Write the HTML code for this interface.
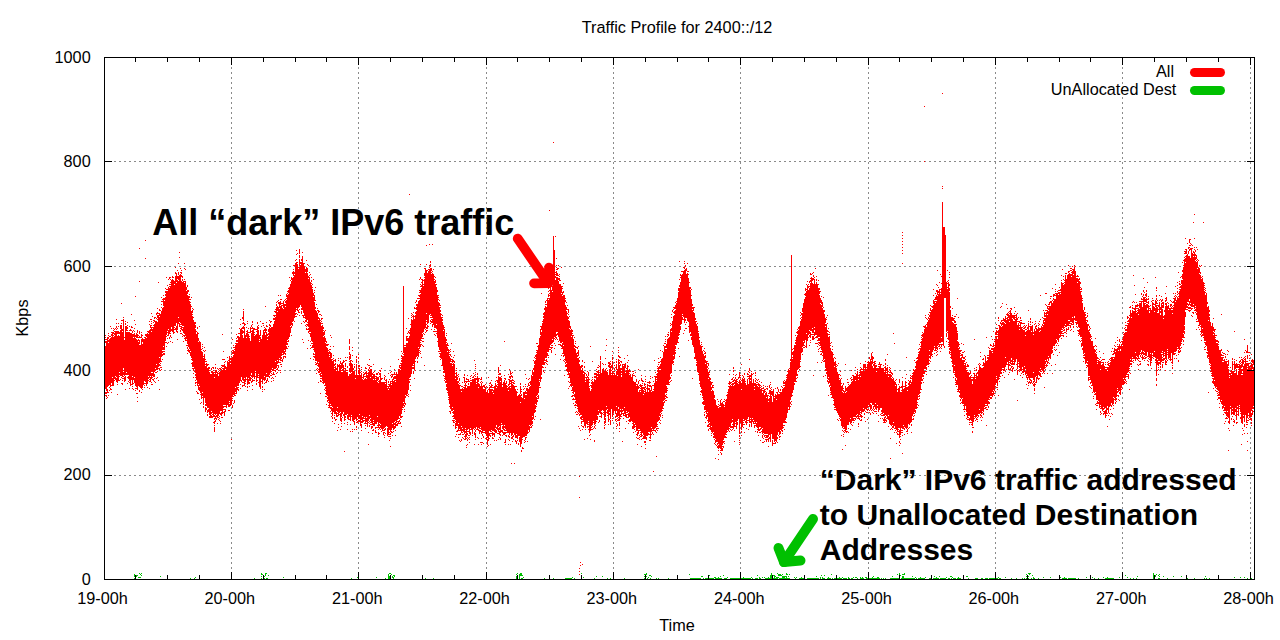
<!DOCTYPE html>
<html><head><meta charset="utf-8"><title>Traffic Profile for 2400::/12</title>
<style>
html,body{margin:0;padding:0;background:#fff;}
body{width:1280px;height:640px;overflow:hidden;font-family:"Liberation Sans",sans-serif;}
svg{display:block}
text{font-family:"Liberation Sans",sans-serif;}
</style></head><body>
<svg width="1280" height="640" viewBox="0 0 1280 640">
<rect width="1280" height="640" fill="#fff"/>
<g stroke="#8a8a8a" stroke-width="1" stroke-dasharray="2 3" shape-rendering="crispEdges">
<line x1="231.5" y1="57" x2="231.5" y2="579"/><line x1="358.5" y1="57" x2="358.5" y2="579"/><line x1="486.5" y1="57" x2="486.5" y2="579"/><line x1="613.5" y1="57" x2="613.5" y2="579"/><line x1="740.5" y1="57" x2="740.5" y2="579"/><line x1="868.5" y1="57" x2="868.5" y2="579"/><line x1="995.5" y1="57" x2="995.5" y2="579"/><line x1="1122.5" y1="57" x2="1122.5" y2="579"/><line x1="1250.5" y1="57" x2="1250.5" y2="579"/><line x1="104" y1="475.5" x2="1254" y2="475.5"/><line x1="104" y1="370.5" x2="1254" y2="370.5"/><line x1="104" y1="266.5" x2="1254" y2="266.5"/><line x1="104" y1="161.5" x2="1254" y2="161.5"/>
</g>
<path d="M105 579.5h7M105 475.5h7M105 370.5h7M105 266.5h7M105 161.5h7M105 57.5h7" shape-rendering="crispEdges" fill="none" stroke="#000" stroke-width="1"/>
<g shape-rendering="crispEdges" fill="none" stroke-width="1" transform="translate(0.5,0)">
<path stroke="#ff0000" d="M105 335v1M105 337v1M105 339v1M105 341v2M105 346v43M105 392v2M105 395v1M106 339v1M106 341v50M106 392v2M106 395v2M106 398v1M107 337v50M107 389v4M107 397v1M108 333v1M108 335v1M108 337v2M108 340v2M108 343v43M108 392v1M108 395v1M109 336v1M109 339v46M109 387v1M109 390v1M110 326v1M110 336v1M110 338v49M110 388v2M111 328v1M111 332v1M111 334v2M111 337v46M111 385v1M111 389v1M111 392v1M112 332v45M112 378v8M113 328v1M113 330v1M113 332v2M113 335v1M113 337v49M114 329v1M114 331v1M114 333v2M114 336v43M114 380v1M115 328v1M115 331v45M115 377v3M116 319v1M116 323v1M116 326v2M116 329v1M116 331v46M116 378v4M117 328v1M117 331v3M117 336v47M117 384v1M117 394v1M118 323v1M118 326v1M118 331v3M118 335v46M119 332v2M119 336v36M119 373v2M119 376v1M119 380v1M120 325v4M120 330v46M120 379v1M121 303v1M121 320v1M121 323v1M121 325v51M121 377v1M121 383v1M122 320v1M122 329v2M122 332v45M122 378v1M122 380v1M122 383v2M123 317v1M123 319v49M123 370v1M123 372v3M123 376v1M123 378v1M124 337v1M124 340v36M124 377v5M125 321v1M125 323v2M125 326v49M125 376v5M125 389v1M126 326v5M126 332v40M126 373v2M127 322v1M127 325v1M127 327v2M127 330v1M127 332v43M127 377v1M127 383v1M128 332v43M128 376v3M128 381v1M129 326v1M129 330v1M129 332v49M129 382v1M129 388v1M130 329v2M130 333v53M131 314v1M131 326v2M131 330v1M131 333v47M131 384v1M132 327v1M132 331v2M132 334v42M132 377v8M132 386v1M132 388v1M133 330v1M133 334v3M133 338v42M133 383v1M133 389v1M134 320v1M134 328v1M134 331v1M134 333v44M134 378v5M135 296v1M135 324v1M135 335v2M135 338v48M135 388v1M135 390v1M136 333v5M136 339v48M136 388v1M136 393v1M137 330v3M137 334v4M137 340v50M137 393v1M137 397v1M137 401v1M138 335v1M138 337v1M138 339v2M138 342v44M139 248v1M139 281v1M139 331v3M139 336v2M139 340v4M139 345v42M139 390v2M140 337v1M140 345v43M141 332v1M141 334v4M141 339v50M141 392v1M142 335v1M142 338v4M142 344v44M142 389v1M143 339v46M144 337v1M144 339v42M144 383v1M144 385v1M144 387v1M145 240v1M145 258v1M145 334v2M145 337v45M145 383v1M146 334v3M146 338v48M147 331v1M147 333v51M147 387v1M148 331v2M148 334v42M148 377v2M148 380v1M149 321v1M149 324v1M149 330v48M149 379v1M149 381v1M149 388v1M150 319v1M150 325v3M150 329v47M150 377v5M151 313v1M151 319v1M151 321v1M151 323v1M151 325v1M151 327v4M151 332v40M151 373v6M151 382v1M151 384v1M152 316v1M152 327v1M152 329v43M152 373v3M152 377v1M152 379v1M152 384v1M153 320v1M153 322v1M153 325v1M153 327v50M153 379v2M154 317v2M154 320v2M154 324v48M154 374v3M154 378v1M154 381v1M155 317v1M155 321v47M155 369v2M155 372v1M155 382v1M156 313v2M156 318v1M156 321v43M156 365v5M156 372v1M156 378v1M157 308v1M157 312v2M157 315v3M157 319v1M157 322v48M157 371v1M157 377v1M158 282v1M158 313v1M158 315v52M158 368v1M158 380v1M159 309v2M159 313v3M159 317v40M159 358v5M159 364v2M159 368v2M159 389v1M160 310v1M160 314v48M160 363v1M160 365v1M160 367v1M160 370v1M161 297v1M161 301v1M161 304v1M161 307v1M161 311v46M161 361v1M161 367v1M161 369v1M162 299v1M162 301v1M162 308v42M162 351v2M162 354v2M162 359v1M163 295v1M163 298v8M163 307v39M163 347v3M163 351v1M163 353v2M164 298v2M164 301v49M164 351v1M164 353v2M165 288v1M165 291v2M165 294v2M165 297v44M165 342v1M166 277v1M166 289v1M166 291v44M166 336v1M166 342v1M166 346v1M167 285v1M167 289v1M167 291v40M167 332v1M167 335v1M167 338v1M167 343v1M168 279v1M168 287v42M168 330v6M168 342v1M169 277v2M169 284v1M169 286v1M169 288v46M169 337v2M170 277v1M170 279v1M170 282v1M170 284v1M170 286v46M170 333v1M170 335v2M170 341v1M171 280v47M171 329v2M171 337v1M172 276v2M172 279v53M172 342v1M173 277v1M173 280v54M174 281v3M174 285v41M174 327v1M174 329v1M174 332v1M175 267v1M175 272v2M175 276v50M175 328v2M176 273v9M176 283v40M176 326v6M177 270v1M177 276v3M177 280v50M177 331v2M177 339v1M178 263v1M178 272v3M178 276v4M178 281v36M178 318v6M179 252v1M179 257v1M179 275v47M179 323v4M180 268v1M180 272v1M180 274v49M180 324v1M180 326v1M180 328v1M180 330v2M180 333v1M181 270v1M181 272v2M181 275v2M181 281v44M181 326v4M181 333v1M182 276v2M182 279v2M182 282v44M182 327v1M182 329v2M182 334v1M182 336v1M183 281v45M183 327v6M183 335v1M183 341v1M184 263v1M184 268v1M184 279v1M184 281v1M184 283v51M184 335v2M184 338v1M185 269v1M185 281v55M185 337v4M186 287v3M186 291v48M186 340v1M186 345v1M187 285v2M187 290v4M187 295v49M187 345v1M187 347v2M187 350v1M187 353v1M188 290v2M188 296v51M188 349v3M189 294v1M189 296v2M189 299v1M189 301v48M189 350v3M190 299v1M190 302v1M190 304v47M190 352v4M191 297v1M191 306v1M191 311v47M191 359v1M191 363v1M192 308v1M192 310v3M192 314v1M192 316v45M192 362v5M192 368v1M193 309v1M193 317v1M193 320v47M193 368v3M193 373v1M193 377v1M194 322v47M194 371v1M195 322v2M195 325v3M195 329v44M195 374v2M195 377v1M195 380v1M195 382v2M195 385v1M196 331v1M196 334v46M196 382v1M196 391v1M197 327v2M197 332v54M197 392v2M198 333v1M198 338v3M198 342v42M198 385v5M198 393v1M199 326v1M199 341v45M199 387v4M199 399v1M200 342v51M200 394v1M200 403v1M201 349v1M201 351v48M201 402v1M202 344v1M202 346v1M202 348v1M202 352v40M202 393v3M202 397v1M203 350v1M203 356v1M203 358v47M203 406v2M204 347v1M204 351v1M204 354v44M205 350v1M205 359v1M205 361v1M205 364v1M205 366v37M205 404v2M205 407v5M206 361v1M206 363v43M206 408v2M207 364v2M207 368v40M207 410v3M207 414v2M208 364v1M208 367v41M208 409v3M209 367v2M209 370v1M209 372v43M209 416v2M210 374v44M211 368v2M211 371v2M211 374v37M211 412v2M211 415v3M212 367v1M212 371v42M212 414v1M212 416v2M213 367v2M213 370v1M213 372v45M213 422v1M214 372v1M214 374v3M214 378v36M214 415v2M214 418v2M214 421v3M214 425v1M214 427v5M215 364v1M215 367v2M215 370v45M215 416v3M215 420v2M216 370v3M216 374v40M216 415v2M216 418v2M217 368v1M217 372v46M217 423v1M218 369v1M218 371v1M218 373v1M218 376v40M218 417v1M218 419v1M219 368v1M219 370v1M219 372v42M219 416v1M219 418v1M219 420v1M220 368v2M220 371v40M220 413v2M220 421v1M220 423v1M221 365v1M221 367v1M221 369v42M221 412v4M221 417v1M222 334v1M222 359v1M222 365v2M222 368v1M222 370v44M222 417v1M223 351v1M223 359v1M223 365v2M223 368v37M223 406v2M223 409v1M223 412v1M224 359v1M224 362v1M224 364v41M224 406v1M224 409v1M224 411v5M225 361v1M225 366v3M225 370v35M225 406v1M225 409v3M226 367v41M227 357v1M227 361v44M228 360v1M228 362v45M228 410v1M229 356v45M229 402v1M229 404v3M229 410v1M230 358v2M230 361v2M230 364v42M231 351v1M231 354v1M231 356v1M231 358v47M231 439v1M232 339v1M232 350v1M232 352v2M232 357v40M232 398v1M232 400v1M232 405v3M233 345v1M233 347v1M233 350v4M233 355v40M233 396v1M233 403v1M234 347v1M234 349v1M234 351v45M234 400v3M235 343v1M235 345v42M235 388v4M235 393v1M235 395v1M236 334v1M236 338v1M236 340v2M236 343v51M237 336v2M237 340v2M237 343v43M237 387v3M238 333v1M238 336v50M238 387v1M238 389v2M239 328v1M239 333v1M239 337v46M240 319v1M240 324v1M240 329v52M240 384v1M240 388v1M241 328v49M241 380v2M242 317v2M242 323v1M242 327v2M242 330v4M242 335v45M242 382v1M242 385v2M243 309v1M243 311v10M243 322v2M243 326v3M243 331v2M243 338v43M243 382v1M243 385v1M244 323v3M244 327v51M244 379v7M245 324v1M245 335v47M245 383v1M245 386v1M246 327v1M246 331v1M246 333v4M246 338v39M246 379v1M247 321v1M247 323v1M247 330v55M247 386v2M247 390v1M248 328v1M248 332v1M248 334v44M248 379v5M249 332v1M249 336v1M249 338v43M249 382v2M249 386v1M250 327v6M250 341v35M250 377v4M251 325v2M251 328v1M251 331v1M251 333v40M251 375v2M251 378v1M251 381v2M252 321v2M252 324v1M252 327v2M252 330v48M252 379v3M252 385v1M252 389v1M253 328v49M253 380v1M254 328v2M254 332v1M254 334v1M254 336v43M254 380v1M255 329v1M255 335v36M255 372v1M255 376v1M256 329v1M256 331v1M256 334v48M256 383v2M257 322v2M257 326v52M257 380v1M258 325v1M258 327v2M258 330v44M258 375v1M258 377v1M258 382v1M259 335v4M259 340v1M259 342v45M260 321v1M260 330v6M260 337v52M261 326v1M261 339v40M261 381v1M262 323v1M262 335v49M262 386v2M262 389v1M262 391v1M263 323v1M263 325v1M263 330v50M264 327v1M264 329v2M264 332v44M264 377v4M264 383v1M264 389v1M265 306v1M265 328v5M265 335v45M265 382v1M266 322v1M266 325v2M266 329v2M266 332v41M266 374v3M266 380v3M267 326v1M267 334v2M267 337v2M267 340v37M267 378v3M268 329v3M268 333v2M268 336v41M268 381v1M269 320v1M269 324v2M269 327v48M269 376v2M270 321v2M270 325v2M270 328v45M270 375v1M271 321v1M271 327v43M271 371v1M271 373v1M271 375v1M271 378v1M271 381v1M272 327v41M272 369v2M272 374v1M272 377v1M273 315v1M273 318v2M273 324v47M273 372v3M273 378v1M273 380v1M274 311v1M274 315v2M274 318v2M274 321v48M274 370v1M274 374v1M275 309v1M275 311v2M275 315v1M275 317v44M275 362v7M275 370v2M275 376v1M276 302v1M276 304v2M276 307v61M276 369v1M276 373v1M277 301v1M277 306v5M277 312v48M277 361v3M277 365v1M277 368v2M277 372v1M278 295v1M278 300v1M278 302v2M278 307v56M278 365v3M278 370v1M279 302v6M279 309v49M279 359v1M279 362v1M280 295v1M280 299v1M280 301v4M280 306v55M280 362v1M280 364v1M280 370v1M280 372v1M281 299v1M281 303v1M281 305v51M281 357v2M281 360v1M281 364v1M281 366v1M282 303v1M282 305v1M282 308v45M282 354v1M282 359v3M283 301v7M283 309v46M283 356v3M284 300v1M284 304v46M284 351v3M284 356v1M285 299v1M285 301v2M285 304v2M285 307v45M285 353v2M285 356v2M286 294v3M286 298v1M286 300v45M286 346v3M287 291v1M287 293v1M287 295v45M287 341v1M287 343v2M287 348v1M288 288v1M288 290v3M288 294v45M288 340v2M288 346v1M289 277v1M289 287v50M290 280v1M290 284v42M290 327v6M291 277v3M291 281v44M291 326v2M291 335v1M292 272v2M292 278v44M292 323v3M293 265v1M293 269v1M293 271v5M293 277v44M294 265v1M294 272v2M294 275v43M294 321v1M295 260v1M295 263v49M295 313v2M295 316v1M296 250v1M296 254v1M296 259v1M296 262v46M296 309v1M296 313v1M296 316v1M297 253v1M297 262v1M297 264v47M297 314v1M298 267v1M298 269v39M298 310v3M299 249v5M299 255v3M299 259v7M299 267v40M299 309v1M299 312v1M299 315v1M300 262v2M300 265v40M301 259v2M301 262v45M301 308v2M301 311v3M301 323v1M302 252v1M302 256v54M302 315v1M302 339v1M303 263v50M303 315v3M303 321v1M303 342v1M304 263v1M304 266v50M304 317v1M304 322v1M305 269v3M305 273v46M305 320v2M305 325v1M306 260v1M306 267v55M306 324v1M306 326v1M306 328v2M307 264v1M307 268v4M307 273v47M307 322v1M307 324v2M307 329v1M307 348v1M308 265v1M308 276v2M308 279v48M308 328v2M308 331v2M308 340v1M309 272v1M309 275v1M309 277v55M309 333v1M310 274v1M310 282v50M310 333v4M310 341v1M310 345v1M310 348v1M310 358v1M311 277v1M311 280v2M311 283v1M311 285v56M311 343v1M311 347v1M312 284v1M312 287v1M312 289v53M312 343v1M312 345v3M313 279v1M313 293v3M313 297v51M313 349v1M313 353v2M313 356v1M313 359v1M314 290v1M314 292v1M314 295v6M314 302v50M314 354v1M314 356v2M315 287v1M315 300v1M315 307v2M315 310v51M315 362v1M315 364v1M316 304v1M316 311v50M316 363v2M316 369v1M316 373v1M317 308v1M317 310v1M317 313v51M317 365v1M317 368v1M317 370v1M318 310v3M318 317v2M318 320v42M318 363v4M318 369v1M318 371v2M318 382v1M319 311v1M319 314v1M319 318v55M319 374v1M320 314v1M320 320v1M320 322v50M320 373v4M320 378v1M320 380v2M320 393v1M321 315v1M321 318v2M321 321v1M321 323v1M321 326v48M321 375v2M321 378v1M321 381v1M322 318v1M322 323v1M322 325v56M322 382v1M323 327v2M323 330v1M323 332v4M323 337v47M324 331v4M324 336v47M324 385v1M324 389v1M325 330v1M325 338v4M325 343v43M325 387v2M325 390v1M325 393v1M325 396v1M326 341v2M326 344v2M326 347v48M326 396v1M326 404v1M327 344v2M327 348v48M327 397v2M327 400v2M328 344v1M328 350v1M328 352v49M328 402v1M328 405v1M328 407v1M329 349v1M329 351v3M329 355v1M329 357v51M330 335v1M330 346v1M330 349v1M330 352v52M330 405v1M330 407v2M330 411v1M331 337v1M331 353v5M331 359v47M331 407v4M331 413v1M331 416v1M332 359v1M332 361v46M332 408v8M332 417v2M332 421v1M333 346v1M333 355v1M333 358v1M333 360v52M334 360v1M334 364v2M334 367v1M334 369v45M334 415v1M334 417v2M334 423v1M335 359v3M335 363v2M335 366v48M335 419v2M336 368v2M336 371v40M336 412v5M336 419v1M337 364v43M337 408v4M337 413v1M337 415v2M337 430v1M338 358v1M338 360v1M338 365v2M338 371v45M338 424v1M338 427v1M339 364v49M339 414v1M340 358v1M340 361v3M340 365v47M340 413v8M340 429v1M341 363v6M341 370v1M341 372v45M341 418v4M341 423v1M341 426v1M342 362v6M342 369v2M342 372v42M342 417v1M343 360v3M343 365v47M343 414v2M344 361v1M344 368v1M344 371v50M344 423v1M344 451v1M345 357v1M345 360v1M345 363v4M345 368v47M345 416v2M345 419v1M346 360v1M346 370v1M346 372v43M347 357v1M347 366v2M347 370v1M347 372v42M347 415v4M347 422v1M347 424v1M347 429v1M348 376v44M349 339v5M349 346v4M349 352v3M349 356v4M349 361v1M349 363v3M349 368v4M349 374v43M349 419v1M350 354v5M350 360v13M350 374v47M350 424v1M350 431v1M351 360v1M351 363v9M351 373v42M351 416v1M352 347v1M352 350v1M352 355v1M352 361v1M352 364v57M352 429v1M352 431v1M353 368v2M353 371v51M354 364v1M354 366v2M354 371v49M354 421v4M354 429v1M355 375v3M355 379v40M356 356v2M356 359v4M356 364v57M356 422v1M356 426v2M356 429v1M357 375v42M357 419v1M357 421v2M358 354v1M358 357v2M358 361v1M358 365v2M358 368v1M358 370v4M358 375v44M358 420v2M358 423v1M359 365v2M359 368v46M359 415v4M359 420v2M360 372v1M360 375v51M361 367v1M361 369v1M361 371v1M361 373v47M361 421v2M361 424v4M361 430v1M362 377v1M362 379v37M362 417v6M363 372v1M363 374v5M363 380v39M363 420v2M364 373v2M364 376v1M364 379v38M364 418v1M364 420v1M364 423v1M365 367v2M365 372v2M365 376v1M365 378v46M365 425v1M365 428v1M366 368v1M366 371v7M366 379v38M366 418v4M366 423v1M367 364v1M367 373v1M367 375v52M368 365v1M368 369v2M368 372v49M368 422v1M368 432v1M368 444v1M369 359v1M369 365v1M369 367v2M369 370v45M369 416v3M369 421v1M369 423v1M369 425v2M370 366v1M370 369v8M370 378v40M370 419v2M370 422v1M370 424v1M371 366v1M371 369v54M371 424v1M371 426v3M372 373v2M372 376v49M372 426v2M372 430v1M372 433v1M373 364v1M373 372v1M373 374v5M373 380v40M373 421v1M373 423v3M373 429v2M374 371v1M374 374v52M375 376v1M375 378v1M375 380v44M375 427v2M375 430v3M376 373v2M376 376v48M376 427v1M376 432v1M377 373v2M377 377v4M377 382v34M377 417v5M377 425v1M377 427v1M378 372v1M378 377v3M378 381v1M378 383v45M378 429v1M378 432v3M378 436v1M379 370v1M379 373v2M379 376v1M379 380v43M379 424v2M379 427v2M379 433v1M380 370v2M380 373v51M380 425v3M380 429v1M381 368v1M381 378v2M381 382v47M381 431v1M382 378v1M382 382v49M383 382v47M383 430v1M383 432v3M384 375v1M384 377v3M384 382v46M384 429v2M384 432v1M384 435v1M384 437v1M385 376v1M385 380v1M385 382v1M385 384v43M385 428v2M385 433v1M386 379v47M387 386v1M387 388v39M387 428v8M388 373v1M388 381v2M388 384v1M388 386v3M388 390v45M388 436v1M389 379v1M389 384v3M389 388v42M389 432v1M389 434v1M389 436v1M389 440v1M390 366v1M390 372v1M390 375v1M390 381v51M390 433v2M390 436v1M390 438v1M390 446v1M391 371v1M391 374v1M391 376v2M391 381v1M391 383v1M391 385v45M391 431v2M392 374v3M392 379v44M392 424v4M392 432v1M392 435v1M393 374v1M393 377v3M393 381v49M393 431v1M394 369v1M394 372v3M394 376v3M394 380v42M394 423v2M394 426v3M395 374v1M395 376v3M395 380v1M395 382v39M395 422v6M395 430v1M395 435v1M396 372v51M396 424v2M397 374v46M397 421v1M397 423v3M398 359v1M398 369v50M398 421v3M399 365v3M399 369v47M399 418v1M399 420v2M399 423v1M400 363v1M400 365v1M400 367v2M400 370v48M400 419v1M400 422v2M401 351v1M401 355v2M401 358v1M401 360v2M401 363v51M401 416v2M401 426v1M402 353v1M402 356v52M402 409v1M402 416v1M403 286v67M403 354v1M403 356v46M403 403v3M403 407v1M404 345v1M404 347v57M404 405v2M404 409v1M404 411v1M405 345v1M405 347v48M405 396v2M405 403v2M406 328v1M406 336v5M406 343v53M407 333v1M407 336v1M407 338v3M407 343v51M407 395v1M408 318v1M408 331v2M408 338v52M408 394v1M408 396v1M409 194v1M409 330v1M409 332v2M409 336v42M409 379v1M409 381v2M410 324v1M410 328v49M410 379v1M410 385v1M410 390v1M411 313v1M411 315v1M411 317v1M411 319v55M412 314v1M412 316v1M412 320v46M412 367v2M413 312v1M413 315v49M413 365v1M413 367v2M413 371v3M414 307v2M414 316v1M414 319v51M414 378v1M415 302v1M415 308v1M415 312v2M415 315v44M415 361v1M415 370v1M416 300v2M416 304v2M416 307v3M416 311v46M417 298v1M417 304v52M417 357v2M417 361v2M418 295v1M418 298v1M418 301v46M418 348v9M419 279v1M419 290v1M419 292v1M419 295v2M419 298v1M419 300v49M419 350v1M419 352v1M420 264v1M420 277v2M420 284v1M420 286v1M420 290v3M420 294v47M420 342v1M420 344v3M420 351v1M420 353v1M421 279v1M421 282v1M421 285v2M421 288v51M421 340v1M421 344v1M421 357v1M422 279v54M422 334v3M422 338v1M422 341v1M422 345v1M423 280v1M423 284v1M423 286v46M423 333v1M423 338v1M423 341v1M423 346v1M424 268v1M424 273v3M424 277v1M424 279v50M424 334v1M424 365v1M425 268v60M425 329v1M425 332v1M426 245v1M426 264v1M426 270v43M426 314v6M426 321v1M426 324v1M426 327v2M426 330v2M427 270v1M427 273v51M427 325v4M427 330v1M428 269v1M428 271v52M428 326v1M429 244v1M429 265v1M429 267v1M429 269v46M430 261v2M430 264v3M430 268v46M430 315v1M430 317v1M430 320v2M430 323v1M431 268v3M431 272v1M431 274v42M431 317v1M431 319v1M431 321v2M431 329v1M432 244v1M432 271v1M432 273v45M432 319v4M432 324v3M433 269v1M433 274v51M433 331v1M434 276v1M434 279v1M434 281v47M434 329v1M434 331v1M434 334v1M435 277v1M435 280v3M435 284v44M435 331v1M435 335v1M436 284v1M436 287v37M436 325v4M436 331v1M436 333v1M437 290v2M437 295v43M437 341v1M438 295v1M438 297v1M438 299v1M438 302v45M438 351v1M439 300v1M439 303v3M439 307v43M439 351v1M439 353v1M439 356v1M440 305v1M440 307v1M440 310v2M440 313v39M440 353v5M440 359v1M441 314v1M441 317v42M441 365v1M442 315v1M442 317v1M442 319v2M442 322v44M443 325v5M443 331v39M443 371v2M443 375v1M444 327v1M444 329v44M444 376v1M444 378v1M444 380v1M445 337v43M445 381v2M446 333v1M446 335v1M446 339v2M446 342v1M446 344v39M446 384v3M446 388v2M447 343v3M447 347v4M447 352v39M447 392v1M448 345v1M448 349v47M448 397v1M448 399v1M449 350v1M449 352v1M449 354v1M449 356v48M449 406v1M449 411v1M450 349v1M450 351v1M450 354v2M450 358v4M450 363v46M450 411v3M451 343v1M451 356v1M451 359v1M451 361v1M451 363v48M452 359v4M452 364v1M452 366v41M452 408v3M452 412v1M452 416v1M452 420v1M453 351v1M453 357v1M453 360v2M453 363v47M453 411v3M453 415v2M453 418v1M453 420v3M453 425v1M454 355v1M454 361v2M454 364v55M454 420v1M454 422v1M455 373v1M455 376v2M455 379v41M455 421v1M455 423v6M455 436v1M456 368v1M456 370v1M456 372v54M456 427v1M456 431v1M456 434v1M457 375v1M457 377v3M457 381v45M457 430v2M458 374v1M458 376v1M458 381v2M458 384v39M458 424v7M458 434v1M458 437v1M459 378v3M459 383v1M459 385v44M459 430v1M459 434v1M459 440v1M460 385v1M460 389v42M460 433v2M460 441v1M461 386v1M461 389v2M461 392v34M461 427v6M461 439v2M462 382v1M462 386v1M462 388v40M462 429v2M462 432v1M462 434v1M462 437v1M463 377v1M463 387v1M463 389v43M463 434v1M463 438v1M464 374v2M464 377v6M464 385v1M464 387v47M464 436v1M464 439v1M465 381v1M465 383v45M465 429v1M465 431v2M465 434v6M466 378v2M466 381v2M466 385v1M466 388v49M466 438v1M466 445v1M466 447v1M467 375v1M467 379v1M467 381v1M467 386v44M467 431v1M467 433v2M467 437v1M467 439v2M467 444v1M468 379v3M468 383v2M468 386v43M468 431v1M468 435v1M468 438v1M469 381v1M469 386v48M469 435v1M469 437v1M469 439v1M469 442v1M470 376v1M470 378v1M470 380v1M470 382v46M470 429v1M470 432v3M471 375v1M471 380v1M471 382v48M472 377v1M472 379v55M472 435v1M473 373v1M473 376v2M473 379v50M474 360v1M474 375v1M474 378v50M474 429v1M474 432v3M474 444v1M475 364v1M475 366v1M475 368v1M475 372v1M475 374v1M475 376v1M475 378v51M475 430v2M475 433v5M475 439v1M476 378v2M476 382v1M476 384v43M476 429v1M477 373v2M477 376v54M477 437v1M478 378v4M478 383v4M478 388v40M478 429v2M478 438v1M478 444v1M479 378v1M479 384v45M479 430v4M480 379v1M480 382v1M480 386v41M480 428v1M480 430v2M480 442v1M481 377v3M481 381v1M481 383v47M481 431v3M481 438v1M481 442v1M481 444v1M482 382v1M482 386v47M482 434v2M482 442v1M483 385v2M483 389v42M483 432v1M483 436v2M483 443v1M484 385v3M484 389v42M484 432v1M485 384v1M485 387v47M485 438v1M486 386v1M486 392v44M486 437v3M487 387v1M487 390v48M487 439v6M487 446v1M488 377v1M488 389v1M488 393v48M488 445v1M489 383v1M489 385v1M489 387v44M489 433v3M489 438v1M490 382v2M490 386v2M490 389v43M490 433v1M490 435v2M490 444v1M491 380v1M491 384v4M491 389v41M491 431v1M491 433v1M492 385v1M492 387v1M492 389v2M492 392v39M492 432v4M492 437v2M493 387v1M493 390v3M493 394v37M493 433v2M493 438v1M494 386v46M494 433v4M494 440v1M495 381v1M495 383v45M495 429v4M496 377v1M496 380v1M496 385v2M496 388v37M496 427v2M496 430v3M496 440v1M497 380v3M497 384v1M497 386v44M497 433v1M498 367v6M498 374v1M498 376v51M498 428v4M498 433v1M498 439v1M499 373v2M499 377v49M499 427v3M499 431v4M499 437v1M500 365v1M500 373v2M500 377v4M500 382v51M500 434v2M500 438v2M501 376v1M501 378v45M501 424v1M501 430v2M502 384v1M502 387v38M502 426v3M502 430v3M502 435v1M503 382v48M503 432v3M504 341v1M504 375v1M504 378v1M504 380v45M504 426v2M504 429v2M504 432v3M504 442v1M505 378v2M505 383v46M505 430v1M505 432v2M505 435v1M505 439v4M505 444v1M506 381v3M506 385v46M506 432v1M506 435v2M507 386v1M507 388v45M508 374v1M508 379v1M508 384v2M508 387v3M508 391v42M508 435v2M508 439v1M508 444v1M509 369v1M509 376v2M509 379v6M509 386v49M509 436v2M509 440v1M510 371v4M510 376v3M510 380v2M510 383v1M510 386v1M510 388v45M510 444v1M511 373v1M511 375v2M511 380v56M511 437v2M511 463v1M512 372v1M512 376v2M512 379v2M512 382v1M512 384v51M512 436v3M512 441v1M513 380v1M513 382v2M513 385v48M513 435v2M513 439v1M514 381v1M514 383v1M514 386v49M514 463v1M515 386v1M515 389v49M515 440v2M516 386v1M516 391v43M516 435v3M516 441v3M517 389v1M517 392v1M517 396v43M517 440v1M518 395v41M518 443v2M519 394v42M519 437v5M520 383v2M520 386v8M520 395v7M520 403v44M521 389v1M521 391v1M521 394v2M521 397v47M521 450v2M522 398v40M522 439v1M522 447v2M523 386v1M523 389v1M523 392v45M523 448v1M524 388v1M524 392v6M524 399v38M524 440v1M524 442v1M525 374v1M525 384v1M525 386v1M525 391v3M525 395v41M525 437v3M525 441v1M526 378v1M526 388v3M526 392v2M526 395v41M526 437v1M527 386v1M527 388v46M527 441v1M528 379v1M528 383v3M528 389v41M528 432v1M529 378v1M529 382v1M529 385v1M529 387v38M529 426v6M530 381v4M530 386v40M530 427v1M531 375v50M531 426v2M532 370v5M532 376v40M532 417v3M532 421v3M532 425v1M533 360v1M533 368v2M533 372v47M534 357v1M534 361v3M534 365v48M534 419v1M535 355v2M535 358v1M535 360v44M535 405v4M535 410v2M535 416v1M536 343v1M536 350v1M536 352v1M536 354v42M536 397v8M536 406v1M537 343v1M537 346v1M537 350v45M537 396v1M537 398v1M537 400v2M538 345v48M538 395v4M539 338v41M539 380v1M539 382v4M539 387v1M540 326v1M540 329v6M540 336v46M540 387v1M540 419v1M541 293v1M541 326v4M541 332v43M541 377v2M542 321v1M542 323v42M542 366v2M543 313v2M543 316v2M543 319v46M543 367v1M543 370v2M544 308v2M544 312v49M544 362v3M544 372v1M545 301v2M545 304v1M545 306v52M545 360v1M545 362v1M545 367v1M546 300v1M546 304v1M546 307v51M546 359v3M546 363v1M547 298v54M547 353v3M547 361v1M547 364v1M548 288v1M548 291v1M548 294v3M548 298v1M548 300v52M548 355v1M548 357v1M549 210v1M549 290v1M549 293v1M549 295v1M549 298v50M549 349v1M550 277v1M550 286v59M550 347v1M550 349v1M551 284v3M551 290v54M551 345v1M551 347v2M551 350v3M552 279v1M552 281v2M552 286v5M552 292v47M552 340v3M552 345v1M552 347v1M553 142v1M553 236v106M554 250v87M554 338v1M554 343v1M554 348v1M555 236v1M555 272v1M555 274v1M555 276v2M555 280v58M555 339v1M555 345v1M555 354v1M556 258v1M556 265v1M556 267v1M556 269v1M556 271v5M556 277v55M556 334v2M556 337v2M557 268v2M557 273v3M557 277v55M557 333v2M557 339v1M558 265v1M558 268v1M558 275v1M558 278v2M558 281v56M558 341v1M558 344v1M559 274v1M559 276v1M559 278v3M559 284v57M559 344v1M560 280v1M560 284v59M560 344v2M560 359v1M561 267v1M561 286v7M561 294v49M561 345v2M561 348v1M561 355v1M562 286v1M562 288v1M562 292v3M562 296v46M562 343v6M562 353v1M563 283v1M563 291v2M563 295v50M563 346v8M563 355v2M563 360v1M564 295v61M564 359v1M564 361v1M564 375v1M565 298v1M565 300v2M565 305v56M565 362v2M565 365v2M566 302v1M566 307v3M566 311v52M566 364v3M566 369v2M567 305v1M567 309v1M567 313v1M567 316v56M567 374v1M568 309v4M568 314v1M568 317v2M568 320v55M568 377v1M568 381v1M568 388v1M569 316v1M569 321v7M569 329v43M569 373v5M569 382v1M569 386v1M570 326v3M570 330v53M570 384v2M571 329v7M571 337v50M571 390v1M571 396v1M572 330v2M572 333v1M572 335v51M572 387v4M572 392v1M572 395v2M572 399v1M573 335v1M573 339v55M573 395v1M573 398v2M573 403v1M574 337v1M574 345v2M574 348v44M574 394v3M574 399v1M574 405v1M575 341v1M575 343v1M575 346v2M575 349v51M575 401v2M575 404v2M575 407v1M575 412v1M576 347v1M576 353v51M576 405v1M576 411v1M576 414v1M577 347v2M577 352v2M577 355v2M577 358v49M577 408v1M577 412v1M577 414v1M578 346v1M578 350v6M578 358v54M578 413v1M578 426v1M579 357v1M579 360v2M579 364v49M579 414v2M579 428v1M579 476v1M579 497v1M579 568v1M579 571v1M579 574v1M580 366v49M580 417v2M580 430v1M580 562v1M580 565v1M581 365v3M581 370v45M581 416v4M581 421v3M581 425v1M582 360v2M582 365v2M582 368v50M582 419v1M582 421v1M582 426v1M582 429v1M582 564v1M583 371v2M583 374v48M583 426v2M584 362v1M584 366v2M584 372v54M584 439v1M585 373v1M585 377v1M585 380v1M585 382v46M585 429v1M586 374v2M586 377v47M587 371v1M587 376v2M587 379v46M587 426v2M587 438v1M588 372v4M588 377v44M588 422v1M588 424v1M588 426v1M588 429v1M589 379v1M589 382v1M589 386v1M589 388v45M589 435v1M590 346v1M590 385v1M590 391v40M590 434v1M590 439v1M591 380v1M591 382v2M591 385v3M591 389v37M591 427v1M591 429v1M592 361v1M592 377v1M592 379v1M592 381v44M592 426v1M592 429v1M593 382v39M593 422v1M593 428v1M594 373v2M594 376v2M594 379v46M594 426v2M594 440v2M595 373v2M595 376v2M595 380v44M595 425v1M595 428v1M596 369v1M596 371v1M596 373v47M596 421v1M597 367v1M597 371v2M597 374v2M597 377v38M597 416v4M598 365v1M598 367v1M598 370v40M598 411v4M598 422v1M599 366v1M599 372v1M599 374v39M599 416v1M599 420v2M600 356v4M600 361v53M600 416v1M601 373v38M601 412v6M602 363v1M602 369v41M602 413v1M603 364v1M603 368v43M603 412v1M603 414v1M604 371v49M604 421v3M604 425v1M604 427v2M605 350v1M605 358v1M605 364v1M605 369v48M605 418v5M605 424v1M606 339v1M606 345v1M606 368v1M606 371v35M606 407v3M606 412v1M607 370v1M607 372v37M607 410v4M607 415v1M608 362v2M608 365v2M608 375v47M608 424v1M609 362v6M609 369v43M609 413v2M609 419v1M610 361v1M610 363v2M610 366v53M610 420v5M611 365v3M611 370v1M611 373v1M611 375v34M612 351v1M612 355v1M612 357v3M612 361v9M612 371v46M612 418v1M612 420v1M613 371v1M613 373v1M613 375v38M613 414v1M614 362v1M614 365v1M614 368v2M614 371v1M614 373v38M615 367v1M615 375v39M615 416v2M615 419v2M616 359v1M616 361v2M616 364v6M616 371v35M616 407v4M616 413v4M616 419v1M616 421v1M616 423v1M616 426v1M616 428v1M617 369v6M617 376v41M617 418v1M617 420v1M617 424v2M618 347v1M618 350v1M618 352v1M618 355v2M618 359v48M618 409v7M618 417v1M618 419v2M619 356v2M619 360v1M619 362v2M619 365v56M619 422v4M619 428v1M619 431v1M620 357v1M620 361v1M620 364v2M620 368v41M620 410v2M620 414v3M620 418v1M621 361v2M621 368v2M621 371v2M621 374v1M621 377v38M621 416v1M622 364v45M622 410v2M622 413v1M622 441v1M623 364v1M623 366v45M623 413v3M623 418v1M624 358v1M624 364v43M624 408v6M624 415v1M625 363v5M625 371v1M625 373v44M625 428v1M626 368v1M626 370v41M626 412v1M626 414v4M626 421v1M627 355v1M627 362v1M627 365v48M627 414v1M627 417v1M628 360v1M628 366v1M628 370v42M628 413v5M628 420v1M628 423v1M629 369v3M629 373v1M629 375v42M629 419v3M630 371v1M630 374v48M631 377v44M632 371v1M632 374v48M632 423v1M632 426v3M633 371v1M633 373v1M633 375v1M633 381v48M633 432v1M634 375v1M634 382v41M634 424v4M634 429v1M635 372v1M635 376v1M635 382v43M635 426v1M635 431v1M636 379v3M636 384v1M636 386v45M636 434v1M636 437v1M637 384v47M637 432v4M637 438v1M637 444v1M638 369v1M638 381v3M638 386v3M638 392v37M638 430v4M638 438v1M639 380v1M639 385v1M639 387v1M639 390v39M639 430v1M639 435v1M639 437v1M639 439v1M640 384v3M640 388v1M640 390v1M640 392v39M640 432v1M640 434v1M640 436v1M641 375v1M641 378v3M641 385v52M641 439v1M641 446v1M642 380v2M642 383v1M642 385v1M642 387v46M642 435v1M642 438v1M643 381v1M643 387v2M643 390v4M643 395v40M643 436v3M644 383v3M644 387v3M644 391v1M644 393v46M644 441v2M645 376v1M645 379v1M645 381v1M645 384v1M645 386v2M645 389v50M645 441v2M645 444v1M645 448v1M646 388v1M646 392v44M646 437v3M647 382v1M647 384v52M648 382v1M648 385v1M648 388v2M648 392v40M648 433v2M649 381v3M649 385v2M649 388v44M649 434v1M649 437v1M649 440v1M650 376v1M650 378v1M650 382v1M650 385v2M650 390v49M650 440v1M651 386v5M651 392v35M651 428v4M651 434v1M652 377v1M652 385v1M652 391v38M652 430v1M652 432v2M653 381v1M653 385v1M653 389v1M653 391v40M653 434v1M653 471v1M654 360v1M654 376v1M654 383v46M654 430v1M655 372v1M655 376v52M655 430v2M656 374v1M656 376v2M656 379v1M656 381v46M656 428v2M656 432v1M656 456v1M657 366v1M657 368v1M657 370v2M657 373v49M657 424v1M657 426v1M657 428v1M657 430v1M658 358v1M658 362v1M658 364v1M658 367v54M658 428v1M659 362v1M659 366v3M659 370v46M659 417v3M659 422v1M660 350v1M660 357v1M660 361v1M660 364v5M660 370v43M660 414v3M660 420v1M660 423v1M661 359v53M661 413v1M662 351v1M662 358v51M662 410v1M662 415v1M662 417v1M663 345v1M663 352v49M663 402v4M663 408v1M664 343v1M664 346v54M664 401v2M665 336v1M665 339v1M665 341v1M665 343v1M665 346v2M665 349v44M665 395v2M665 398v1M665 400v1M666 344v4M666 349v36M666 386v7M666 394v1M666 396v2M666 400v1M667 334v1M667 336v1M667 339v46M667 388v1M667 390v1M667 397v1M668 332v1M668 334v2M668 338v47M669 337v43M669 382v1M669 384v1M670 323v1M670 325v1M670 329v45M670 377v2M670 381v1M671 314v1M671 317v1M671 324v1M671 328v3M671 332v41M671 375v1M671 380v1M672 310v2M672 321v43M673 307v1M673 309v1M673 312v1M673 316v39M673 356v4M673 361v2M673 364v1M674 307v2M674 311v3M674 315v44M675 302v1M675 305v4M675 310v35M675 346v3M675 350v1M675 352v2M676 301v1M676 303v42M677 298v45M678 288v3M678 292v44M678 337v2M678 342v1M678 348v1M679 261v1M679 279v1M679 285v2M679 288v45M679 334v1M679 356v1M680 274v2M680 277v1M680 282v43M680 326v4M681 271v1M681 275v49M682 271v1M682 274v40M682 315v1M682 317v3M683 267v1M683 271v46M683 319v1M683 333v1M684 261v1M684 263v1M684 267v2M684 270v53M684 330v1M685 265v2M685 269v49M685 319v2M685 324v1M685 328v1M686 268v3M686 274v44M686 322v1M686 328v1M687 263v1M687 271v1M687 273v48M688 271v1M688 274v1M688 278v44M688 326v1M688 340v1M689 282v1M689 287v46M690 287v2M690 290v42M690 334v2M691 289v1M691 295v1M691 299v37M691 337v3M692 304v2M692 307v2M692 310v35M692 378v1M693 307v4M693 312v35M694 307v1M694 313v40M694 357v2M695 318v2M695 321v38M696 321v1M696 324v37M696 362v1M696 364v2M697 323v1M697 326v46M698 331v1M698 333v40M698 374v1M699 337v1M699 340v41M699 383v1M700 345v42M700 391v1M700 394v1M701 342v1M701 344v1M701 346v43M701 390v3M702 346v1M702 351v45M702 397v1M702 402v2M703 350v1M703 354v46M703 401v4M704 348v1M704 351v1M704 353v1M704 356v49M704 406v4M704 412v1M704 414v2M705 352v2M705 355v3M705 360v3M705 364v46M705 411v1M705 417v1M705 422v1M706 361v53M706 415v4M707 361v1M707 363v1M707 366v2M707 369v43M707 413v4M707 420v1M707 425v2M708 363v3M708 368v1M708 372v6M708 379v44M708 424v3M708 429v2M709 371v2M709 374v1M709 377v45M709 423v2M709 426v1M709 428v1M710 378v2M710 381v49M711 382v3M711 387v3M711 391v35M711 427v5M711 433v1M711 435v1M712 382v1M712 385v3M712 390v43M713 385v1M713 387v1M713 391v41M713 433v2M713 436v2M714 395v3M714 399v39M714 439v1M714 443v1M715 400v39M715 440v3M715 444v1M715 458v1M716 405v37M716 445v1M717 399v1M717 406v36M717 443v2M717 446v2M718 401v1M718 404v1M718 406v1M718 408v36M718 445v4M718 450v1M718 454v1M718 459v1M719 405v1M719 407v41M720 400v6M720 407v42M720 450v1M720 452v1M721 399v1M721 403v48M721 453v2M722 402v43M722 446v1M722 448v3M723 401v1M723 404v36M723 441v2M723 446v2M724 399v1M724 401v1M724 405v1M724 407v31M724 441v1M724 443v1M725 400v1M725 402v33M725 436v2M726 395v1M726 399v34M726 434v1M726 437v1M727 392v1M727 394v36M727 431v1M728 383v1M728 386v1M728 389v42M729 374v1M729 381v4M729 386v41M729 428v1M729 431v1M730 382v2M730 385v43M730 429v1M731 379v1M731 382v1M731 384v1M731 386v37M731 426v2M731 430v1M732 378v2M732 381v1M732 383v36M732 420v2M732 424v1M732 426v2M732 429v1M733 367v2M733 370v2M733 374v1M733 377v1M733 380v2M733 383v2M733 386v43M734 379v2M734 382v2M734 385v42M734 430v1M734 441v1M735 375v1M735 377v2M735 380v42M735 423v1M735 426v1M736 374v1M736 379v50M737 379v1M737 381v1M737 383v38M737 422v3M738 377v2M738 382v1M738 384v35M739 372v6M739 380v54M739 435v2M739 438v1M739 440v1M739 442v1M739 444v1M740 375v1M740 377v1M740 379v1M740 381v42M741 364v1M741 380v1M741 383v6M741 390v40M741 431v2M741 435v1M742 375v1M742 378v49M743 376v2M743 379v40M743 420v1M743 422v1M743 424v1M743 427v1M744 373v2M744 378v43M744 424v1M744 432v1M745 381v1M745 383v37M745 421v2M746 385v40M746 428v1M747 373v2M747 376v1M747 379v40M747 420v1M747 422v1M748 371v1M748 374v1M748 376v1M748 378v1M748 384v33M748 420v1M748 429v1M749 359v1M749 368v3M749 372v1M749 375v48M749 424v3M750 375v2M750 378v2M750 381v37M750 419v1M750 421v2M751 371v1M751 373v54M752 374v1M752 383v35M752 419v3M753 373v1M753 379v41M753 421v3M754 383v3M754 387v2M754 390v32M754 423v1M754 425v3M755 372v2M755 375v1M755 378v1M755 380v2M755 383v41M755 425v1M755 431v1M756 379v1M756 382v1M756 384v38M756 423v4M757 380v1M757 382v1M757 384v1M757 386v42M757 429v1M757 431v2M758 379v1M758 383v3M758 387v44M758 435v1M759 381v1M759 384v43M759 429v2M759 432v1M760 385v1M760 387v1M760 389v38M760 428v2M760 432v1M760 440v1M761 382v1M761 386v1M761 388v41M761 431v1M762 388v1M762 390v1M762 393v35M762 429v5M762 435v3M762 442v1M763 385v1M763 387v2M763 390v43M763 434v1M763 438v1M763 442v1M764 389v4M764 395v39M764 435v2M764 441v1M765 386v1M765 389v1M765 391v1M765 393v41M765 435v1M765 437v1M765 439v1M766 388v1M766 392v5M766 398v36M766 435v3M766 439v3M767 386v1M767 388v2M767 395v39M767 435v3M767 439v1M768 393v1M768 395v1M768 399v2M768 402v35M768 438v4M768 446v1M769 385v3M769 390v4M769 396v1M769 398v37M769 437v2M770 382v1M770 384v1M770 388v1M770 390v52M771 387v1M771 389v1M771 391v4M771 396v38M772 391v5M772 402v37M772 440v6M773 389v50M773 443v1M774 396v1M774 398v44M774 443v1M775 388v1M775 394v47M775 442v2M776 392v1M776 395v4M776 400v42M777 387v2M777 392v43M777 437v2M777 442v1M778 389v3M778 394v38M778 435v1M779 392v1M779 394v41M779 436v2M779 439v1M780 389v2M780 392v38M780 431v3M780 436v1M781 386v1M781 392v39M782 387v1M782 389v40M782 430v2M782 433v1M783 381v3M783 385v1M783 388v35M783 425v1M783 427v1M784 380v1M784 382v2M784 385v1M784 387v36M784 425v1M784 429v1M785 381v39M785 421v2M786 375v1M786 377v1M786 379v39M786 422v1M787 371v1M787 374v39M788 369v38M788 409v1M789 368v1M789 370v40M790 359v2M790 362v38M790 402v2M790 406v1M791 255v142M791 401v1M791 404v1M792 349v1M792 352v3M792 357v1M792 359v34M792 395v1M793 348v1M793 351v39M794 345v37M794 383v2M795 335v1M795 340v1M795 342v2M795 345v37M796 332v1M796 337v39M796 378v1M796 381v1M797 329v1M797 331v3M797 335v35M797 374v2M797 377v1M798 327v2M798 330v39M798 371v1M799 326v42M799 369v1M800 312v1M800 315v1M800 318v1M800 321v39M800 361v1M800 366v1M801 313v2M801 317v1M801 319v34M802 308v4M802 313v34M802 348v4M802 354v1M803 303v38M803 342v4M803 347v1M804 294v1M804 299v44M804 345v1M804 347v1M805 288v3M805 293v3M805 297v43M805 346v1M806 284v1M806 289v1M806 291v42M806 334v14M807 281v1M807 285v56M808 284v1M808 286v2M808 290v45M808 337v1M809 281v2M809 286v1M809 288v42M809 331v3M809 335v2M809 345v1M810 273v2M810 278v1M810 280v2M810 283v48M810 332v6M810 340v1M810 342v1M811 274v1M811 277v54M811 334v1M812 273v1M812 278v3M812 283v45M812 329v4M812 334v1M812 336v4M813 272v1M813 275v2M813 278v2M813 284v49M813 334v1M813 336v4M813 375v1M814 277v1M814 279v48M814 328v2M814 332v4M814 338v1M815 268v1M815 284v51M815 337v1M815 343v1M816 276v1M816 279v2M816 282v53M816 336v2M816 343v1M817 284v54M817 340v1M817 343v1M817 346v1M817 362v1M818 280v1M818 284v1M818 288v49M818 338v3M818 342v1M818 344v1M818 349v1M818 351v1M819 288v2M819 291v3M819 295v42M819 338v3M819 342v2M819 345v1M819 348v1M820 291v1M820 298v5M820 304v42M820 347v1M820 351v1M820 354v1M821 296v1M821 300v4M821 305v45M821 351v1M821 353v2M821 362v1M822 302v5M822 308v45M822 355v1M822 360v1M823 297v1M823 307v1M823 310v50M823 361v1M823 376v1M824 310v2M824 314v45M824 360v2M825 318v5M825 324v2M825 327v41M825 369v2M825 375v1M826 317v1M826 319v1M826 324v47M826 372v2M827 315v1M827 323v1M827 330v2M827 333v46M827 380v2M828 328v1M828 331v1M828 334v1M828 337v40M828 378v2M828 381v3M828 395v1M829 332v1M829 334v1M829 336v47M829 385v2M830 343v1M830 345v1M830 348v38M830 387v4M830 392v1M830 394v1M831 342v1M831 351v44M831 397v1M832 346v1M832 349v1M832 352v46M833 354v1M833 358v41M833 400v1M833 404v1M834 357v1M834 362v4M834 367v39M834 407v1M834 409v1M835 358v1M835 361v47M835 409v1M836 364v1M836 366v1M836 368v43M837 365v1M837 372v41M837 419v1M838 363v1M838 374v41M838 420v1M839 374v1M839 378v1M839 380v37M839 418v1M840 371v1M840 375v1M840 379v39M840 419v2M841 378v1M841 383v1M841 386v40M841 435v1M842 385v6M842 392v36M842 430v1M842 449v1M843 383v2M843 388v1M843 390v2M843 393v34M843 428v1M843 431v1M843 434v1M843 436v1M844 391v38M844 430v1M844 432v1M845 364v1M845 386v6M845 393v39M845 445v1M846 388v3M846 392v38M846 431v2M847 379v1M847 382v1M847 387v38M847 431v1M848 382v1M848 384v1M848 386v39M848 428v1M848 432v1M849 385v37M850 378v1M850 384v34M850 419v5M850 429v1M851 370v1M851 377v1M851 379v2M851 382v41M851 424v1M852 375v1M852 379v1M852 381v40M852 425v1M853 375v42M853 418v3M853 422v1M854 376v41M854 418v1M854 420v1M855 367v1M855 373v1M855 376v4M855 381v36M855 418v2M856 374v41M856 416v2M857 369v1M857 371v43M857 415v2M857 418v1M858 375v1M858 377v2M858 380v39M858 423v2M858 426v1M859 372v1M859 374v41M859 416v1M859 418v2M860 363v1M860 367v1M860 369v7M860 377v34M860 412v1M860 414v3M860 420v1M861 368v2M861 371v43M861 415v3M861 419v2M862 369v1M862 371v41M862 416v1M863 364v44M863 409v3M864 364v4M864 369v1M864 371v40M864 413v2M864 417v1M865 361v1M865 364v45M865 411v1M865 421v1M866 367v1M866 369v41M866 412v1M867 362v1M867 364v44M867 409v2M867 412v1M867 419v1M868 361v44M868 406v1M868 409v1M869 357v2M869 362v45M869 410v1M869 412v1M870 359v44M870 404v6M870 413v2M871 353v7M871 361v42M871 405v4M871 410v1M872 352v1M872 356v8M872 366v39M872 409v1M872 412v1M873 357v2M873 362v1M873 364v2M873 368v37M873 406v3M873 410v1M873 413v1M874 361v46M874 409v1M874 411v1M875 361v1M875 363v1M875 365v38M875 404v5M875 411v1M876 365v2M876 368v3M876 372v38M876 411v1M876 413v1M877 368v37M877 406v2M878 364v1M878 366v1M878 368v44M878 415v1M878 421v1M879 362v3M879 366v44M880 364v44M880 414v1M880 418v1M881 364v1M881 368v40M881 410v2M881 413v1M881 415v1M882 368v46M882 415v1M882 418v1M883 365v1M883 368v45M883 414v2M883 419v2M883 422v1M884 367v1M884 370v1M884 372v44M884 417v6M885 359v2M885 363v2M885 366v49M885 416v2M885 419v2M885 422v1M886 368v3M886 372v1M886 374v42M886 418v1M886 420v2M887 354v1M887 365v1M887 367v52M888 371v1M888 374v2M888 377v38M888 416v4M888 426v1M889 367v1M889 369v1M889 372v1M889 374v50M890 368v1M890 370v3M890 374v51M890 429v1M890 438v1M890 458v1M891 372v2M891 375v2M891 378v48M891 428v1M892 373v2M892 377v1M892 379v46M892 426v2M892 429v1M893 333v1M893 378v44M893 423v5M894 343v1M894 381v45M894 428v1M894 432v1M895 380v1M895 382v3M895 386v43M895 430v1M896 379v1M896 384v46M896 432v1M896 443v1M897 389v1M897 392v40M897 433v2M898 384v1M898 388v40M898 429v1M898 431v1M898 434v1M899 379v4M899 386v42M899 430v8M899 441v2M899 445v1M900 387v1M900 392v43M900 436v1M900 439v1M900 443v1M901 386v2M901 390v1M901 392v36M901 430v1M901 432v1M902 232v1M902 235v1M902 238v1M902 241v1M902 244v1M902 247v1M902 250v1M902 253v1M902 263v1M902 377v1M902 381v48M902 430v1M902 432v1M902 435v1M902 453v1M903 386v1M903 389v36M903 426v3M904 386v1M904 388v39M904 428v2M904 434v1M905 378v1M905 381v47M906 357v1M906 374v1M906 382v1M906 385v1M906 387v42M906 431v1M907 387v3M907 391v37M907 429v3M907 433v1M908 380v1M908 383v2M908 386v38M908 428v1M909 381v44M909 427v1M910 375v1M910 377v2M910 380v3M910 384v39M911 376v1M911 378v1M911 382v40M911 424v2M911 432v1M912 373v1M912 375v41M912 419v1M913 369v2M913 372v42M913 416v1M913 418v2M914 360v1M914 370v42M914 413v1M914 415v1M915 362v1M915 366v2M915 369v40M915 410v3M916 358v1M916 361v48M917 357v2M917 360v40M917 402v1M917 404v1M917 407v1M918 349v1M918 352v1M918 354v41M918 396v1M918 399v1M918 405v1M919 344v1M919 348v1M919 351v43M919 395v2M919 398v1M920 342v1M920 346v1M920 348v42M920 392v1M921 335v1M921 337v1M921 339v1M921 341v40M921 382v2M921 389v1M922 332v1M922 334v3M922 338v39M922 379v2M923 326v1M923 333v41M923 375v2M923 378v1M923 382v1M924 106v1M924 161v1M924 326v2M924 329v40M924 371v3M925 315v1M925 317v1M925 325v44M925 371v1M926 318v1M926 324v1M926 327v39M926 367v3M926 371v1M926 374v1M927 319v1M927 322v43M928 314v1M928 317v2M928 320v45M928 366v1M929 312v1M929 315v2M929 318v32M929 351v4M929 356v2M929 360v1M929 363v1M930 305v1M930 308v3M930 312v47M930 361v1M931 306v1M931 310v46M932 306v2M932 309v43M932 354v1M932 356v1M933 289v1M933 295v1M933 300v4M933 305v45M934 299v1M934 301v45M934 347v1M934 350v1M934 353v1M935 293v1M935 297v3M935 301v1M935 303v48M936 284v1M936 290v2M936 295v5M936 301v48M936 350v1M936 352v1M936 355v1M937 270v1M937 285v1M937 290v5M937 296v50M937 347v3M937 351v1M937 354v1M938 287v1M938 291v2M938 294v51M938 346v1M939 282v1M939 289v54M939 344v3M939 348v1M940 274v1M940 289v1M940 292v1M940 294v49M940 344v1M940 347v1M940 351v1M941 276v1M941 283v1M941 288v49M941 338v4M941 344v3M941 348v1M942 93v1M942 186v1M942 188v1M942 202v140M942 344v1M943 227v119M944 227v71M944 346v2M945 235v63M946 282v50M946 333v4M946 341v1M947 270v1M947 281v1M947 283v1M947 287v1M947 289v42M947 332v1M947 338v1M948 280v1M948 282v58M948 342v1M948 344v1M948 346v1M949 272v1M949 274v1M949 277v1M949 284v2M949 288v3M949 292v55M949 348v2M949 351v3M950 306v2M950 310v41M950 352v1M950 354v1M950 357v1M951 317v42M951 361v1M952 308v1M952 315v1M952 317v4M952 322v42M952 365v2M953 318v3M953 323v50M953 377v1M954 316v1M954 318v1M954 320v3M954 324v41M954 366v5M954 372v1M954 374v1M955 316v1M955 321v2M955 324v53M955 378v3M955 382v1M955 384v1M956 314v1M956 324v1M956 327v51M956 380v5M956 386v1M957 298v1M957 331v1M957 333v7M957 341v44M957 389v1M957 391v1M958 317v1M958 342v5M958 348v44M959 344v1M959 347v2M959 350v40M959 391v2M959 395v2M960 350v2M960 353v1M960 355v1M960 358v40M960 399v2M960 403v1M961 343v1M961 350v1M961 354v2M961 357v42M961 402v1M962 352v1M962 354v4M962 360v38M962 399v5M963 344v1M963 352v1M963 357v2M963 360v44M963 405v1M963 409v1M964 351v1M964 357v2M964 360v2M964 363v1M964 365v45M964 411v1M964 415v1M965 356v1M965 359v1M965 363v43M965 409v1M966 362v1M966 366v1M966 368v1M966 370v42M966 413v2M966 418v1M967 364v3M967 370v1M967 372v46M967 419v1M968 365v2M968 372v44M968 417v1M968 419v1M969 373v2M969 377v39M969 418v3M969 422v1M969 424v1M970 371v3M970 376v44M970 422v1M971 375v1M971 377v1M971 379v42M971 422v1M971 424v1M972 377v1M972 379v2M972 384v42M972 427v1M972 431v2M973 373v1M973 377v45M973 427v1M974 339v1M974 368v1M974 370v1M974 373v42M974 416v1M974 418v1M975 375v1M975 377v1M975 379v39M975 420v1M976 367v1M976 369v2M976 373v44M976 418v2M977 372v2M977 376v40M977 417v1M977 419v1M977 421v1M978 364v1M978 370v44M978 415v2M979 363v1M979 365v44M979 410v4M980 352v1M980 356v1M980 364v1M980 367v46M980 414v2M980 417v1M981 368v46M981 415v2M981 420v1M982 359v1M982 365v1M982 368v43M982 412v1M982 417v1M983 358v2M983 362v4M983 367v45M983 413v2M984 355v1M984 363v44M984 408v1M985 356v48M985 405v1M985 407v2M986 337v1M986 361v43M986 405v1M986 407v1M986 409v1M986 425v1M987 355v1M987 357v2M987 360v46M987 409v1M988 347v1M988 355v1M988 357v43M988 401v3M988 406v2M989 348v1M989 350v48M989 399v1M989 402v2M990 344v2M990 350v46M990 397v2M991 336v1M991 345v1M991 348v2M991 351v45M991 397v2M992 339v1M992 346v1M992 348v2M992 351v1M992 353v39M992 393v4M993 331v1M993 343v4M993 348v42M993 391v4M994 339v1M994 341v1M994 345v1M994 347v44M994 393v1M994 395v1M995 332v3M995 336v2M995 339v46M995 386v1M995 391v1M996 324v1M996 328v1M996 330v5M996 336v40M996 377v1M996 379v4M996 387v1M997 328v1M997 331v2M997 334v1M997 336v1M997 339v47M997 387v1M997 389v1M998 317v2M998 320v1M998 325v1M998 330v50M998 395v1M999 325v52M999 378v1M999 381v1M1000 307v1M1000 322v2M1000 326v48M1000 376v1M1001 306v1M1001 320v2M1001 323v3M1001 327v44M1001 372v2M1002 303v1M1002 320v1M1002 322v3M1002 326v42M1002 369v1M1002 375v1M1003 318v3M1003 322v46M1003 369v2M1003 372v1M1004 319v3M1004 323v48M1004 377v1M1005 316v7M1005 324v33M1005 358v9M1005 371v1M1006 304v1M1006 314v1M1006 318v1M1006 320v45M1006 369v1M1007 308v1M1007 313v3M1007 317v45M1007 364v1M1008 312v1M1008 314v4M1008 319v51M1008 374v1M1009 311v1M1009 313v1M1009 315v6M1009 322v39M1009 362v1M1009 364v2M1009 369v1M1009 372v1M1010 308v1M1010 310v54M1010 365v1M1010 368v2M1011 308v2M1011 313v45M1011 360v2M1011 363v2M1011 366v2M1011 370v1M1012 315v3M1012 319v46M1012 366v1M1012 368v4M1013 315v4M1013 321v39M1013 361v1M1013 363v2M1013 367v2M1014 307v1M1014 313v1M1014 315v5M1014 321v44M1014 370v1M1014 379v1M1015 311v1M1015 315v1M1015 317v1M1015 319v43M1016 314v45M1016 364v1M1016 369v1M1017 313v1M1017 318v2M1017 321v1M1017 325v44M1017 370v5M1017 400v1M1018 317v1M1018 321v1M1018 323v39M1018 363v1M1018 366v1M1018 370v1M1019 321v2M1019 325v1M1019 327v2M1019 330v38M1019 369v1M1019 371v1M1020 317v2M1020 320v1M1020 322v49M1020 375v1M1021 320v1M1021 322v2M1021 327v44M1021 373v1M1022 323v1M1022 327v1M1022 329v38M1022 369v1M1022 371v2M1022 377v1M1023 323v1M1023 326v1M1023 328v1M1023 330v43M1023 374v1M1024 323v1M1024 325v1M1024 327v2M1024 330v36M1024 367v5M1025 326v2M1025 329v1M1025 332v3M1025 336v33M1025 371v4M1026 325v1M1026 329v1M1026 331v43M1026 375v3M1026 384v1M1027 327v2M1027 330v46M1027 377v3M1027 381v1M1027 388v1M1028 310v1M1028 321v1M1028 323v55M1028 382v2M1028 385v1M1029 326v1M1029 330v50M1029 381v2M1030 318v2M1030 321v2M1030 324v1M1030 326v52M1030 379v2M1030 382v2M1031 326v5M1031 332v46M1031 380v3M1032 322v1M1032 325v53M1032 383v1M1033 332v2M1033 335v37M1033 373v7M1033 381v2M1033 384v2M1034 324v1M1034 329v53M1034 383v4M1034 388v3M1034 393v1M1035 321v1M1035 323v1M1035 326v3M1035 331v46M1035 382v1M1035 384v1M1036 325v2M1036 328v48M1036 377v6M1037 329v50M1038 323v1M1038 325v1M1038 327v48M1038 378v2M1039 321v1M1039 324v1M1039 328v3M1039 332v39M1039 372v4M1039 378v1M1040 295v1M1040 319v1M1040 328v2M1040 331v37M1040 369v3M1040 373v4M1041 326v44M1041 371v1M1041 376v1M1042 317v1M1042 324v2M1042 327v44M1042 373v1M1043 310v1M1043 318v1M1043 320v4M1043 325v48M1044 312v5M1044 318v3M1044 322v47M1044 371v1M1044 373v1M1044 387v1M1045 293v1M1045 304v1M1045 310v1M1045 313v1M1045 315v2M1045 318v42M1045 361v3M1045 365v1M1045 367v1M1045 369v1M1046 293v1M1046 305v1M1046 310v1M1046 312v50M1046 364v3M1047 306v3M1047 310v4M1047 315v44M1047 361v3M1047 365v1M1047 373v1M1048 304v1M1048 306v1M1048 308v2M1048 311v45M1048 357v4M1048 362v1M1049 302v3M1049 306v52M1049 363v1M1050 296v1M1050 298v1M1050 301v2M1050 306v53M1051 296v1M1051 301v53M1051 365v1M1052 288v1M1052 300v1M1052 303v46M1052 350v3M1052 373v1M1053 294v3M1053 298v2M1053 301v45M1053 354v1M1054 294v2M1054 299v47M1054 347v1M1054 349v1M1055 284v1M1055 289v1M1055 291v1M1055 293v1M1055 295v1M1055 299v45M1055 350v1M1055 364v1M1056 293v46M1056 340v3M1056 345v1M1056 349v1M1057 291v1M1057 293v47M1057 343v1M1057 355v1M1058 290v1M1058 292v2M1058 295v47M1058 345v1M1059 287v1M1059 290v1M1059 292v42M1059 335v3M1059 352v1M1060 289v2M1060 292v1M1060 294v43M1061 275v1M1061 280v1M1061 282v48M1061 331v3M1061 335v1M1061 338v1M1062 269v1M1062 283v45M1062 329v1M1062 331v1M1062 333v1M1062 335v1M1063 276v1M1063 279v1M1063 283v1M1063 285v44M1063 330v1M1063 333v1M1063 335v2M1064 280v1M1064 282v1M1064 284v42M1064 327v1M1064 329v2M1064 332v1M1065 273v1M1065 275v49M1065 325v2M1065 332v1M1066 273v1M1066 279v48M1066 328v4M1066 333v1M1066 336v1M1067 275v51M1067 329v1M1068 265v1M1068 271v2M1068 274v46M1068 321v5M1068 327v3M1069 271v1M1069 273v47M1069 321v3M1069 325v1M1070 268v1M1070 270v1M1070 274v48M1070 323v1M1070 325v3M1070 330v1M1071 268v1M1071 270v1M1071 272v1M1071 274v2M1071 277v45M1071 323v2M1071 329v1M1072 266v1M1072 269v1M1072 271v46M1072 318v5M1072 324v1M1073 269v5M1073 275v50M1073 326v2M1073 331v1M1074 265v1M1074 267v49M1074 318v2M1075 266v1M1075 271v50M1075 322v1M1076 276v1M1076 278v43M1076 322v3M1076 326v1M1077 275v2M1077 278v4M1077 283v41M1077 327v1M1077 330v1M1078 276v1M1078 279v48M1078 330v2M1078 333v1M1078 335v1M1079 278v2M1079 281v47M1079 329v6M1079 340v1M1080 282v2M1080 287v1M1080 289v1M1080 291v46M1080 341v1M1081 288v2M1081 291v1M1081 295v42M1081 338v1M1081 340v1M1081 343v4M1082 298v1M1082 300v1M1082 303v43M1082 348v2M1083 310v44M1083 355v1M1083 357v1M1083 361v1M1084 307v3M1084 312v41M1084 354v2M1084 357v2M1085 312v1M1085 314v2M1085 317v47M1086 317v1M1086 320v1M1086 322v41M1086 365v1M1086 367v1M1087 313v1M1087 315v2M1087 320v2M1087 324v37M1087 362v2M1087 365v2M1088 324v2M1088 330v46M1088 377v4M1089 326v2M1089 329v2M1089 332v44M1089 377v1M1089 379v1M1089 386v1M1090 328v1M1090 334v4M1090 339v41M1090 382v2M1090 387v1M1091 336v1M1091 338v1M1091 341v42M1091 385v1M1091 388v1M1092 341v45M1092 392v1M1093 346v46M1093 396v1M1093 398v1M1094 346v1M1094 349v44M1094 394v1M1095 338v1M1095 345v1M1095 350v2M1095 353v39M1095 393v2M1095 404v1M1096 346v1M1096 349v1M1096 352v1M1096 354v46M1096 403v1M1096 405v1M1096 409v1M1097 357v2M1097 360v1M1097 362v1M1097 364v36M1097 401v3M1097 405v1M1098 358v1M1098 360v41M1098 402v2M1099 351v1M1099 359v1M1099 361v47M1100 357v1M1100 361v8M1100 370v35M1100 406v1M1100 408v1M1100 411v2M1100 414v1M1101 360v1M1101 362v1M1101 365v44M1101 413v1M1102 359v1M1102 362v1M1102 364v47M1103 353v1M1103 359v1M1103 362v45M1103 408v2M1103 411v1M1103 413v2M1104 359v1M1104 366v43M1104 411v3M1105 362v1M1105 364v1M1105 367v1M1105 369v39M1105 410v8M1106 367v1M1106 369v45M1106 415v1M1107 362v1M1107 364v1M1107 367v3M1107 371v35M1107 408v2M1107 413v1M1107 426v1M1108 361v1M1108 363v3M1108 367v46M1108 415v1M1109 359v1M1109 363v1M1109 365v42M1109 413v1M1109 419v1M1110 358v1M1110 360v1M1110 362v44M1110 409v1M1110 416v1M1111 351v1M1111 357v46M1111 405v2M1111 413v1M1112 348v1M1112 354v1M1112 357v48M1112 414v1M1113 351v1M1113 353v2M1113 357v1M1113 359v38M1113 398v6M1113 405v1M1113 408v1M1114 345v1M1114 348v6M1114 357v41M1114 399v1M1115 342v1M1115 346v1M1115 349v2M1115 352v49M1115 402v2M1116 349v48M1116 398v2M1116 401v1M1117 337v1M1117 340v1M1117 344v1M1117 346v1M1117 348v40M1117 389v1M1117 391v2M1117 395v1M1118 346v4M1118 351v41M1118 395v2M1118 399v1M1119 339v3M1119 344v47M1119 392v2M1119 400v1M1120 342v1M1120 346v3M1120 351v44M1121 341v1M1121 344v44M1121 389v1M1122 339v1M1122 341v4M1122 346v39M1122 388v1M1123 332v1M1123 334v1M1123 336v42M1123 379v6M1124 328v1M1124 333v47M1124 381v3M1125 322v1M1125 325v1M1125 327v1M1125 329v2M1125 332v46M1125 379v2M1125 382v1M1126 325v1M1126 329v2M1126 332v43M1126 376v1M1126 381v1M1126 383v1M1127 316v3M1127 321v1M1127 323v1M1127 325v48M1127 374v1M1127 376v1M1128 317v1M1128 320v2M1128 323v49M1128 374v5M1129 307v1M1129 315v1M1129 318v49M1129 368v1M1129 370v1M1129 372v1M1129 389v1M1130 306v2M1130 310v49M1130 360v2M1130 363v2M1130 373v1M1131 313v4M1131 318v44M1131 363v2M1131 366v1M1132 302v1M1132 305v1M1132 307v2M1132 310v47M1132 358v1M1132 361v1M1133 275v1M1133 301v1M1133 308v1M1133 311v48M1133 360v1M1133 362v1M1134 285v1M1134 302v1M1134 308v2M1134 311v48M1135 294v1M1135 305v47M1135 353v8M1136 302v1M1136 305v2M1136 308v1M1136 311v1M1136 313v43M1136 357v2M1137 304v3M1137 308v1M1137 310v1M1137 312v45M1137 358v2M1137 364v1M1138 305v1M1138 308v6M1138 315v44M1138 360v1M1138 365v1M1138 369v1M1139 301v1M1139 303v5M1139 309v46M1139 358v1M1139 361v1M1139 364v1M1140 301v1M1140 303v49M1140 353v1M1140 355v2M1140 361v1M1140 363v2M1141 293v2M1141 298v2M1141 301v49M1141 352v3M1141 357v1M1142 296v1M1142 299v1M1142 301v1M1142 307v47M1142 355v5M1143 278v1M1143 290v2M1143 294v2M1143 297v54M1143 352v3M1143 357v2M1144 287v1M1144 292v1M1144 297v5M1144 303v49M1144 353v2M1144 356v1M1144 358v1M1144 360v1M1145 294v2M1145 297v1M1145 299v3M1145 303v1M1145 305v51M1145 357v2M1146 290v2M1146 293v4M1146 298v5M1146 304v52M1146 357v1M1147 282v1M1147 299v1M1147 302v1M1147 304v4M1147 310v42M1147 356v1M1147 360v1M1147 364v1M1148 296v1M1148 298v2M1148 301v3M1148 305v52M1148 358v1M1148 361v1M1148 364v2M1149 306v1M1149 308v1M1149 310v1M1149 313v45M1149 359v1M1150 305v1M1150 308v45M1150 354v12M1151 301v1M1151 310v51M1151 362v1M1151 368v1M1152 298v1M1152 300v1M1152 302v51M1152 355v1M1152 357v1M1153 300v1M1153 303v2M1153 306v51M1153 358v1M1154 304v1M1154 307v4M1154 312v39M1154 352v5M1155 277v1M1155 300v7M1155 308v50M1155 359v2M1155 362v1M1156 287v2M1156 290v1M1156 295v2M1156 298v2M1156 301v3M1156 305v71M1156 378v3M1156 384v2M1157 300v1M1157 303v1M1157 305v1M1157 307v5M1157 313v46M1157 360v5M1157 370v1M1158 305v2M1158 309v1M1158 313v48M1158 362v4M1158 367v1M1158 369v1M1158 374v1M1159 295v1M1159 300v1M1159 302v59M1159 362v2M1160 299v1M1160 307v3M1160 311v2M1160 315v50M1160 366v2M1160 369v1M1161 296v1M1161 300v2M1161 303v50M1161 354v8M1162 299v2M1162 302v2M1162 305v3M1162 309v42M1162 352v1M1162 354v1M1162 357v1M1162 359v2M1162 362v1M1162 364v4M1163 302v6M1163 316v2M1163 319v38M1163 358v3M1163 362v1M1164 310v2M1164 315v37M1164 353v1M1164 355v1M1164 358v2M1165 293v1M1165 298v1M1165 300v2M1165 303v2M1165 306v53M1165 360v5M1165 370v1M1166 286v1M1166 297v4M1166 303v57M1166 361v2M1166 364v1M1167 302v1M1167 306v43M1167 350v1M1167 352v1M1167 354v1M1167 360v1M1168 303v1M1168 305v4M1168 310v49M1169 308v50M1169 359v1M1170 300v1M1170 304v3M1170 308v53M1171 301v1M1171 304v2M1171 307v2M1171 310v43M1171 359v1M1171 362v1M1172 302v1M1172 306v1M1172 308v1M1172 310v3M1172 314v50M1172 365v1M1172 367v2M1172 373v1M1173 293v1M1173 298v1M1173 301v2M1173 305v1M1173 307v48M1174 296v1M1174 298v54M1174 353v2M1174 358v1M1175 286v1M1175 293v1M1175 295v1M1175 297v4M1175 302v50M1175 353v1M1176 296v1M1176 300v51M1176 355v1M1176 358v1M1177 282v1M1177 285v1M1177 288v1M1177 291v2M1177 294v1M1177 297v50M1177 348v1M1178 272v1M1178 293v1M1178 296v1M1178 298v51M1178 350v3M1178 354v1M1178 360v2M1179 281v1M1179 283v2M1179 287v1M1179 289v1M1179 291v59M1179 351v2M1180 277v1M1180 284v1M1180 286v2M1180 289v57M1180 348v1M1180 350v2M1181 276v1M1181 280v4M1181 285v57M1181 343v1M1181 347v1M1182 262v1M1182 270v2M1182 274v5M1182 280v58M1182 339v1M1183 260v1M1183 265v1M1183 267v66M1183 334v4M1183 340v2M1183 344v1M1184 251v1M1184 253v1M1184 257v1M1184 259v66M1184 326v4M1184 331v3M1184 337v1M1185 238v1M1185 249v1M1185 251v3M1185 256v1M1185 258v4M1185 263v47M1185 312v5M1186 249v5M1186 255v53M1186 309v1M1187 243v1M1187 254v48M1187 303v2M1187 306v2M1187 309v1M1188 247v2M1188 251v3M1188 256v46M1188 304v2M1188 307v2M1188 310v1M1189 239v4M1189 245v1M1189 247v1M1189 249v2M1189 256v43M1189 301v4M1189 307v2M1189 310v2M1190 239v1M1190 243v1M1190 245v1M1190 248v2M1190 258v45M1190 304v2M1190 307v2M1190 310v1M1191 244v1M1191 248v59M1191 308v2M1191 315v1M1192 245v1M1192 248v1M1192 253v54M1192 308v1M1192 312v1M1192 316v1M1193 222v1M1193 251v2M1193 254v2M1193 257v47M1193 305v2M1193 312v2M1194 214v1M1194 238v1M1194 247v1M1194 249v1M1194 252v57M1194 310v1M1195 250v2M1195 254v2M1195 257v3M1195 261v45M1195 307v1M1195 309v2M1195 312v1M1196 247v1M1196 255v4M1196 260v1M1196 262v50M1196 313v2M1196 319v1M1196 321v1M1196 329v1M1197 249v1M1197 259v1M1197 261v7M1197 269v50M1197 321v1M1198 260v1M1198 267v55M1198 325v1M1198 327v1M1199 265v1M1199 268v5M1199 274v52M1199 329v1M1200 266v1M1200 272v2M1200 275v50M1200 326v1M1200 331v1M1200 334v1M1201 265v1M1201 277v1M1201 279v55M1201 335v2M1201 340v1M1202 276v1M1202 278v50M1202 329v4M1202 334v2M1203 222v1M1203 282v54M1203 337v1M1204 283v1M1204 285v1M1204 287v1M1204 289v1M1204 291v50M1204 342v1M1204 347v1M1204 349v1M1205 288v1M1205 290v1M1205 292v1M1205 295v46M1205 342v3M1205 346v1M1205 349v1M1206 293v53M1206 352v1M1207 302v2M1207 307v44M1207 352v2M1207 355v3M1208 306v14M1208 321v36M1208 358v1M1208 392v1M1209 310v2M1209 314v2M1209 317v46M1209 364v1M1210 322v42M1210 365v1M1210 367v2M1210 371v1M1211 326v46M1211 373v1M1211 375v1M1212 323v54M1212 378v1M1212 381v2M1213 318v1M1213 327v4M1213 332v2M1213 335v42M1213 378v6M1213 388v1M1214 329v3M1214 333v47M1214 381v5M1215 329v1M1215 335v1M1215 337v1M1215 339v49M1215 390v1M1216 335v1M1216 340v2M1216 343v44M1216 388v1M1216 391v1M1217 340v2M1217 343v47M1217 391v1M1217 393v1M1217 395v1M1217 399v1M1218 341v2M1218 344v1M1218 346v45M1218 392v1M1218 394v2M1218 397v2M1219 350v46M1219 397v2M1219 403v1M1219 407v1M1220 350v52M1221 314v1M1221 349v2M1221 354v2M1221 357v43M1221 401v3M1222 352v1M1222 355v1M1222 357v4M1222 362v43M1222 406v3M1223 353v1M1223 355v1M1223 357v1M1223 360v1M1223 362v46M1223 410v1M1223 414v1M1224 353v1M1224 359v47M1224 407v4M1224 412v1M1224 423v1M1225 354v1M1225 356v2M1225 361v50M1225 412v2M1225 418v1M1225 421v1M1226 359v1M1226 361v55M1226 417v2M1227 350v1M1227 354v1M1227 361v1M1227 364v47M1227 412v5M1227 418v1M1228 351v1M1228 360v6M1228 367v1M1228 369v49M1228 421v2M1228 428v1M1228 450v1M1229 373v2M1229 376v1M1229 378v46M1229 430v1M1230 367v1M1230 371v1M1230 373v33M1230 407v2M1231 370v4M1231 375v40M1231 418v2M1232 358v2M1232 361v9M1232 371v37M1232 409v2M1232 412v2M1232 416v1M1233 364v1M1233 371v44M1233 419v1M1233 421v1M1233 425v1M1234 331v1M1234 359v1M1234 361v9M1234 371v1M1234 373v42M1234 420v3M1235 364v5M1235 373v35M1235 409v3M1235 415v1M1236 360v1M1236 363v5M1236 369v51M1236 422v2M1237 364v4M1237 375v31M1237 407v2M1237 411v1M1237 414v1M1237 422v1M1238 364v1M1238 366v2M1238 369v1M1238 371v45M1239 357v1M1239 361v2M1239 364v41M1239 406v1M1239 408v1M1240 360v2M1240 363v1M1240 365v47M1240 413v1M1240 417v2M1241 357v1M1241 359v1M1241 362v1M1241 364v4M1241 369v5M1241 375v48M1241 444v1M1242 359v8M1242 369v2M1242 373v1M1242 375v49M1242 428v1M1242 434v1M1243 358v1M1243 360v4M1243 366v49M1243 416v2M1243 430v1M1244 339v1M1244 352v1M1244 357v1M1244 359v1M1244 361v1M1244 364v58M1244 424v3M1244 433v1M1245 350v1M1245 356v1M1245 358v57M1246 351v2M1246 361v1M1246 363v60M1246 424v1M1246 427v1M1247 345v8M1247 355v4M1247 361v1M1247 363v3M1247 367v1M1247 369v49M1247 420v1M1247 422v1M1247 424v1M1247 433v1M1247 441v1M1247 450v1M1248 352v1M1248 363v50M1248 415v1M1248 418v1M1248 420v1M1249 352v1M1249 355v1M1249 358v1M1249 360v1M1249 363v1M1249 366v52M1249 419v1M1250 365v2M1250 368v49M1250 418v2M1251 354v1M1251 360v2M1251 363v48M1251 413v4M1251 418v3M1251 422v2M1251 425v1M1252 359v4M1252 364v5M1252 370v39M1252 410v5M1253 360v5M1253 367v39M1253 407v2M1253 411v1"/>
<path stroke="#00c000" d="M134 574v3M134 578v1M135 578v1M136 575v2M137 575v1M138 577v1M139 573v1M139 577v1M140 574v1M140 577v1M141 573v1M141 575v1M160 576v1M190 578v1M194 578v1M195 577v1M254 578v1M261 573v2M261 576v1M261 578v1M262 574v1M263 575v1M264 576v1M264 578v1M265 573v3M266 573v1M266 578v1M267 578v1M268 575v1M283 577v1M351 578v1M357 577v1M376 577v1M385 578v1M388 574v5M389 573v1M389 576v3M390 573v1M390 577v1M391 574v1M392 576v2M393 575v1M393 577v2M394 575v2M425 578v1M433 578v1M516 574v1M516 576v3M517 573v1M519 574v5M520 573v3M521 573v3M521 578v1M522 575v1M522 578v1M523 577v1M544 578v1M553 578v1M565 578v1M566 578v1M567 578v1M568 578v1M569 578v1M570 578v1M571 578v1M572 577v1M574 578v1M581 573v1M583 577v1M594 578v1M596 576v1M602 576v1M607 578v1M610 578v1M624 578v1M644 574v1M644 576v1M644 578v1M645 574v1M645 577v1M646 573v2M646 576v1M647 578v1M648 577v1M649 575v1M650 575v1M650 578v1M651 576v1M656 578v1M658 578v1M668 578v1M689 574v1M690 578v1M691 578v1M692 578v1M693 578v1M694 578v1M695 578v1M696 578v1M697 578v1M698 578v1M699 578v1M700 578v1M701 576v1M702 576v1M703 578v1M705 578v1M706 578v1M707 578v1M708 578v1M709 575v1M709 578v1M710 578v1M711 578v1M712 578v1M713 578v1M714 577v1M715 577v2M716 578v1M717 578v1M718 577v2M719 578v1M720 576v1M720 578v1M721 578v1M723 575v1M724 578v1M725 578v1M726 578v1M727 577v1M730 578v1M731 578v1M732 578v1M733 578v1M734 578v1M735 578v1M736 578v1M737 578v1M738 578v1M739 578v1M740 578v1M741 578v1M742 578v1M743 577v2M744 578v1M745 578v1M746 578v1M747 578v1M748 578v1M749 578v1M750 578v1M751 577v1M752 578v1M755 578v1M756 578v1M757 575v1M757 578v1M759 577v2M760 578v1M762 577v1M764 577v1M765 578v1M766 578v1M767 578v1M768 577v2M769 578v1M770 575v4M771 573v6M772 575v4M773 575v1M773 578v1M774 575v4M775 576v1M775 578v1M776 577v2M777 573v1M777 577v2M778 574v2M778 577v1M779 574v2M779 578v1M780 574v2M780 578v1M781 575v1M781 578v1M782 574v1M782 576v3M783 576v3M784 576v3M785 576v1M785 578v1M786 573v2M786 576v3M787 574v1M787 578v1M788 576v1M788 578v1M789 574v1M789 578v1M794 577v1M795 578v1M796 577v1M799 578v1M800 578v1M801 577v2M802 578v1M803 578v1M804 578v1M807 578v1M808 578v1M809 578v1M810 578v1M811 578v1M812 578v1M813 578v1M814 578v1M815 578v1M816 576v1M816 578v1M817 578v1M818 578v1M820 577v2M821 575v1M822 577v2M823 578v1M824 575v1M824 578v1M827 578v1M828 577v2M829 578v1M830 578v1M831 574v1M832 578v1M834 578v1M835 578v1M836 578v1M837 578v1M838 578v1M839 577v2M840 578v1M841 578v1M842 577v1M843 578v1M844 578v1M845 578v1M846 578v1M848 577v2M849 578v1M851 578v1M852 578v1M853 577v1M855 577v1M856 577v1M857 578v1M860 577v2M861 578v1M862 577v2M863 578v1M865 577v1M866 577v2M867 578v1M868 576v1M868 578v1M869 578v1M870 578v1M871 578v1M872 577v2M873 576v1M873 578v1M874 578v1M875 578v1M876 578v1M877 577v2M878 577v2M879 578v1M881 578v1M883 578v1M885 578v1M890 578v1M891 578v1M892 576v1M892 578v1M893 578v1M894 578v1M895 578v1M896 578v1M897 574v1M897 578v1M898 578v1M899 573v2M899 576v3M900 575v1M901 578v1M902 574v1M902 576v3M903 574v1M903 576v3M904 573v2M904 578v1M905 578v1M906 578v1M907 578v1M908 578v1M909 578v1M910 578v1M911 578v1M912 576v1M912 578v1M913 578v1M914 578v1M915 577v1M916 578v1M918 578v1M919 578v1M920 577v2M921 578v1M922 578v1M923 578v1M924 578v1M925 577v1M929 578v1M930 578v1M931 578v1M933 578v1M934 576v1M934 578v1M935 578v1M936 577v2M937 578v1M938 578v1M939 576v1M940 578v1M941 578v1M942 578v1M943 578v1M944 578v1M945 578v1M946 577v1M948 578v1M949 578v1M950 576v1M951 576v1M951 578v1M952 577v1M953 578v1M954 578v1M955 578v1M957 578v1M958 577v2M959 578v1M960 578v1M963 578v1M966 576v1M967 576v1M968 578v1M975 578v1M976 578v1M977 578v1M981 578v1M982 578v1M985 578v1M986 578v1M987 578v1M989 578v1M990 578v1M991 578v1M992 578v1M993 578v1M994 578v1M995 578v1M996 578v1M997 578v1M998 577v1M999 578v1M1000 578v1M1005 577v1M1011 578v1M1016 578v1M1022 578v1M1024 578v1M1026 574v1M1026 576v1M1026 578v1M1028 573v1M1028 576v1M1028 578v1M1029 573v2M1030 573v1M1031 578v1M1032 575v1M1033 577v2M1034 578v1M1038 578v1M1043 577v1M1050 577v1M1060 577v1M1062 578v1M1063 578v1M1064 577v2M1065 578v1M1066 578v1M1068 578v1M1069 578v1M1070 578v1M1071 578v1M1072 578v1M1073 578v1M1074 578v1M1075 578v1M1078 578v1M1086 577v1M1092 577v1M1094 578v1M1098 578v1M1103 577v1M1105 578v1M1106 578v1M1107 577v2M1108 578v1M1109 578v1M1110 578v1M1111 578v1M1112 578v1M1113 578v1M1119 577v1M1122 578v1M1125 575v1M1127 577v1M1130 578v1M1133 578v1M1136 578v1M1137 576v1M1153 573v6M1155 575v2M1156 574v1M1158 575v1M1158 578v1M1159 574v1M1159 576v1M1159 578v1M1163 576v1M1167 578v1M1173 576v1M1181 576v1M1186 577v1M1187 578v1M1194 578v1M1204 578v1M1205 576v1M1206 578v1M1209 578v1M1234 577v1M1240 577v1M1244 577v1M1247 578v1M1251 578v1"/>
</g>
<g shape-rendering="crispEdges" fill="none" stroke="#000" stroke-width="1">
<rect x="104.5" y="57.5" width="1150" height="522"/>
<path d="M104.5 579v-7M104.5 58v7M231.5 579v-7M231.5 58v7M358.5 579v-7M358.5 58v7M486.5 579v-7M486.5 58v7M613.5 579v-7M613.5 58v7M740.5 579v-7M740.5 58v7M868.5 579v-7M868.5 58v7M995.5 579v-7M995.5 58v7M1122.5 579v-7M1122.5 58v7M1250.5 579v-7M1250.5 58v7M135.5 579v-4M135.5 58v4M167.5 579v-4M167.5 58v4M199.5 579v-4M199.5 58v4M263.5 579v-4M263.5 58v4M295.5 579v-4M295.5 58v4M326.5 579v-4M326.5 58v4M390.5 579v-4M390.5 58v4M422.5 579v-4M422.5 58v4M454.5 579v-4M454.5 58v4M517.5 579v-4M517.5 58v4M549.5 579v-4M549.5 58v4M581.5 579v-4M581.5 58v4M645.5 579v-4M645.5 58v4M677.5 579v-4M677.5 58v4M708.5 579v-4M708.5 58v4M772.5 579v-4M772.5 58v4M804.5 579v-4M804.5 58v4M836.5 579v-4M836.5 58v4M899.5 579v-4M899.5 58v4M931.5 579v-4M931.5 58v4M963.5 579v-4M963.5 58v4M1027.5 579v-4M1027.5 58v4M1059.5 579v-4M1059.5 58v4M1090.5 579v-4M1090.5 58v4M1154.5 579v-4M1154.5 58v4M1186.5 579v-4M1186.5 58v4M1218.5 579v-4M1218.5 58v4M1254 579.5h-7M1254 475.5h-7M1254 370.5h-7M1254 266.5h-7M1254 161.5h-7M1254 57.5h-7"/>
</g>
<g font-size="16.25" fill="#000">
<text x="102.5" y="603.5" text-anchor="middle">19-00h</text><text x="229.8" y="603.5" text-anchor="middle">20-00h</text><text x="357.2" y="603.5" text-anchor="middle">21-00h</text><text x="484.5" y="603.5" text-anchor="middle">22-00h</text><text x="611.8" y="603.5" text-anchor="middle">23-00h</text><text x="739.2" y="603.5" text-anchor="middle">24-00h</text><text x="866.5" y="603.5" text-anchor="middle">25-00h</text><text x="993.8" y="603.5" text-anchor="middle">26-00h</text><text x="1121.2" y="603.5" text-anchor="middle">27-00h</text><text x="1248.5" y="603.5" text-anchor="middle">28-00h</text><text x="90.7" y="584.8" text-anchor="end">0</text><text x="90.7" y="480.4" text-anchor="end">200</text><text x="90.7" y="376.0" text-anchor="end">400</text><text x="90.7" y="271.6" text-anchor="end">600</text><text x="90.7" y="167.2" text-anchor="end">800</text><text x="90.7" y="62.8" text-anchor="end">1000</text>
<text x="677" y="33" text-anchor="middle">Traffic Profile for 2400::/12</text>
<text x="677" y="631" text-anchor="middle">Time</text>
<text transform="translate(28,318) rotate(-90)" text-anchor="middle">Kbps</text>
<text x="1174" y="77" text-anchor="end">All</text>
<text x="1176.4" y="95" text-anchor="end">UnAllocated Dest</text>
</g>
<line x1="1194.5" y1="72.5" x2="1220.5" y2="72.5" stroke="#ff0000" stroke-width="9" stroke-linecap="round"/>
<line x1="1194.5" y1="90.5" x2="1220.5" y2="90.5" stroke="#00c000" stroke-width="9" stroke-linecap="round"/>
<g fill="none" stroke="#ff0000" stroke-width="9.7" stroke-linecap="round" stroke-linejoin="round">
<path d="M517.7 238.6L548.3 283.2"/>
<path d="M549 267.6L548.3 283.2L534 283.3"/>
</g>
<g fill="none" stroke="#00c000" stroke-width="10" stroke-linecap="round" stroke-linejoin="round">
<path d="M813 519L784 562"/>
<path d="M778.5 548L784 562L800.5 560.5"/>
</g>
<g font-weight="bold" fill="#000">
<text x="152.3" y="234.8" font-size="36" textLength="362" lengthAdjust="spacingAndGlyphs">All “dark” IPv6 traffic</text>
<text x="819.8" y="490" font-size="30">“Dark” IPv6 traffic addressed</text>
<text x="819.8" y="525.4" font-size="30">to Unallocated Destination</text>
<text x="819.8" y="560.2" font-size="30">Addresses</text>
</g>
</svg>
</body></html>
